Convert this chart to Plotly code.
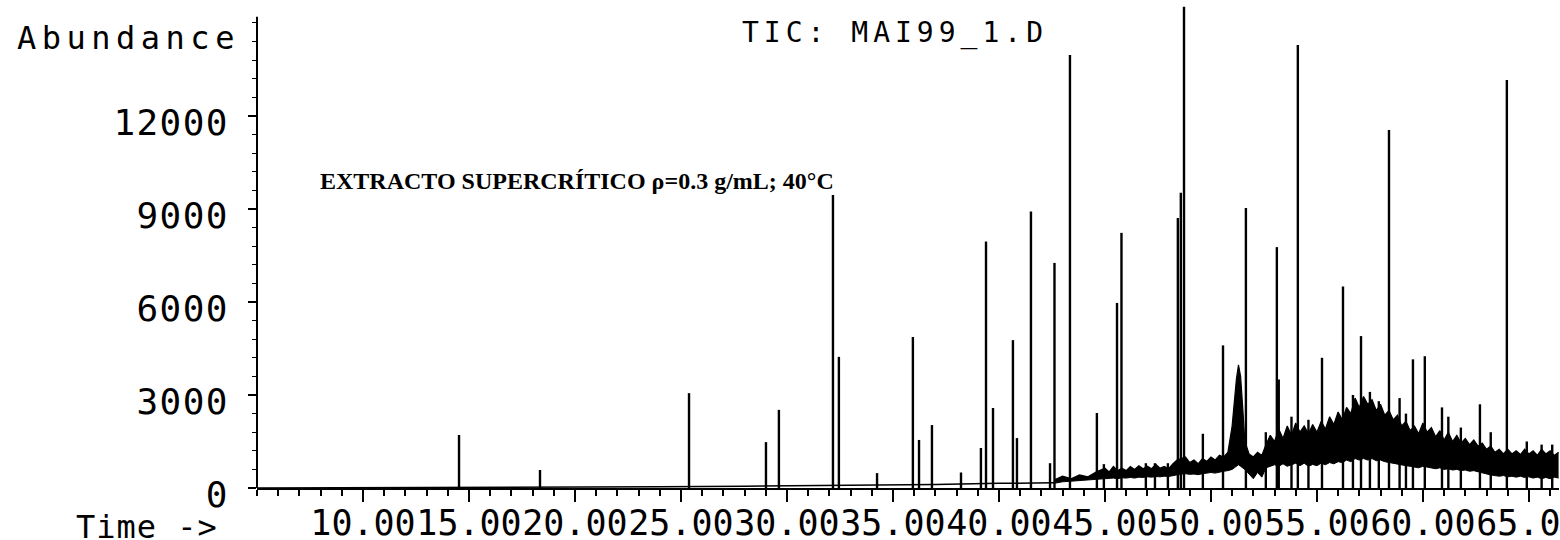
import plotly.graph_objects as go

# ---------------- data ----------------
# discrete peaks: retention time (min) and apex abundance
peak_time = [14.53, 18.35, 25.38, 29.01, 29.62, 32.17, 32.45, 34.25, 35.94, 36.23,
             36.84, 38.21, 39.15, 39.39, 39.72, 40.66, 40.85, 41.51, 42.41, 42.62,
             43.35, 44.62, 44.95, 45.57, 45.78, 46.93, 47.36, 47.97, 48.44, 48.58,
             48.73, 49.62, 50.57, 51.65, 52.59, 53.11, 53.20, 53.80, 54.10, 54.60,
             55.24, 56.23, 56.70, 57.08, 57.50, 57.92, 58.40, 58.90, 59.20, 59.53,
             60.09, 60.90, 61.20, 61.79, 62.69, 63.20, 63.96, 64.90, 65.60, 66.10]
peak_abund = [1710, 580, 3060, 1480, 2520, 9450, 4230, 480, 4870, 1550,
              2030, 500, 1290, 7950, 2580, 4770, 1610, 8920, 800, 7260,
              13970, 2420, 770, 5970, 8230, 800, 800, 800, 8710, 9520,
              15520, 1750, 4600, 9030, 1800, 7770, 3500, 2300, 14290, 2200,
              4200, 6500, 3000, 4900, 3100, 2800, 11550, 2900, 2400, 4150,
              4250, 2600, 2300, 1950, 2700, 1800, 13160, 1500, 1400, 1400]

# quiet baseline of the early part of the run
base_time = [5.0, 12.0, 18.0, 24.0, 28.0, 31.0, 34.0, 37.0, 40.0, 42.6]
base_abund = [0, 10, 20, 40, 60, 70, 90, 110, 150, 170]

# envelope of the noisy baseline in the late part of the run
band_time = [42.6, 43.0, 43.4, 43.8, 44.2, 44.6, 45.0, 45.2, 45.4, 45.6, 45.8, 46.0,
             46.2, 46.4, 46.6, 46.8, 47.0, 47.2, 47.4, 47.6, 47.8, 48.0, 48.2, 48.4,
             48.6, 48.8, 49.0, 49.2, 49.4, 49.6, 49.8, 50.0, 50.2, 50.4, 50.6, 50.8,
             51.0, 51.1, 51.2, 51.3, 51.4, 51.5, 51.6, 51.8, 52.0, 52.2, 52.4, 52.6,
             52.8, 53.0, 53.2, 53.4, 53.6, 53.8, 54.0, 54.2, 54.4, 54.6, 54.8, 55.0,
             55.2, 55.4, 55.6, 55.8, 56.0, 56.2, 56.4, 56.6, 56.8, 57.0, 57.2, 57.4,
             57.6, 57.8, 58.0, 58.2, 58.4, 58.6, 58.8, 59.0, 59.2, 59.4, 59.6, 59.8,
             60.0, 60.2, 60.4, 60.6, 60.8, 61.0, 61.2, 61.4, 61.6, 61.8, 62.0, 62.2,
             62.4, 62.6, 62.8, 63.0, 63.2, 63.4, 63.6, 63.8, 64.0, 64.2, 64.4, 64.6,
             64.8, 65.0, 65.2, 65.4, 65.6, 65.8, 66.0, 66.2, 66.4]
band_low = [150, 200, 220, 240, 250, 260, 280, 300, 320, 300, 330, 320,
            340, 320, 350, 340, 360, 350, 370, 360, 380, 370, 400, 420,
            450, 460, 440, 450, 430, 460, 470, 500, 480, 520, 540, 560,
            600, 650, 700, 750, 700, 650, 600, 450, 300, 500, 350, 650,
            700, 750, 700, 780, 700, 760, 800, 720, 800, 700, 760, 720,
            800, 750, 820, 780, 850, 820, 900, 850, 950, 900, 950, 900,
            950, 880, 900, 850, 820, 800, 780, 750, 720, 700, 680, 650,
            700, 680, 650, 620, 650, 600, 620, 580, 600, 560, 580, 540,
            560, 520, 500, 450, 420, 400, 380, 400, 360, 380, 350, 380,
            340, 360, 320, 350, 300, 340, 300, 350, 320]
band_high = [260, 380, 300, 420, 360, 520, 640, 520, 700, 560, 640, 560,
             690, 600, 720, 620, 700, 620, 760, 640, 700, 620, 780, 900,
             950, 1000, 820, 900, 780, 950, 860, 1000, 900, 1060, 1000, 1150,
             2000, 2900, 3500, 3970, 3600, 2600, 1500, 1100, 1000, 1150, 1050, 1400,
             1700, 1500, 1900, 1600, 2000, 1700, 2100, 1800, 2000, 1750, 2050, 1800,
             2150, 1900, 2300, 2050, 2450, 2200, 2600, 2400, 2900, 2600, 2950, 2700,
             2850, 2500, 2700, 2350, 2500, 2200, 2350, 2000, 2150, 1850, 2000, 1750,
             2100, 1800, 1950, 1650, 1850, 1550, 1800, 1500, 1700, 1450, 1600, 1400,
             1550, 1350, 1450, 1250, 1350, 1150, 1250, 1100, 1250, 1100, 1200, 1080,
             1250, 1100, 1200, 1050, 1250, 1100, 1200, 1050, 1150]

x_tick_vals = [10, 15, 20, 25, 30, 35, 40, 45, 50, 55, 60, 65]
x_tick_text = ["10.00", "15.00", "20.00", "25.00", "30.00", "35.00",
               "40.00", "45.00", "50.00", "55.00", "60.00", "65.00"]
y_tick_vals = [0, 3000, 6000, 9000, 12000]
y_tick_text = ["0", "3000", "6000", "9000", "12000"]

X_RANGE = [5.0, 66.42]
Y_RANGE = [0, 15580]

MONO = "DejaVu Sans Mono"

# ---------------- figure ----------------
fig = go.Figure()

fig.add_trace(go.Scatter(x=base_time, y=base_abund, mode="lines",
                         line=dict(color="black", width=1.5), hoverinfo="skip"))

fig.add_trace(go.Scatter(x=band_time, y=band_low, mode="lines",
                         line=dict(color="black", width=1), hoverinfo="skip"))
fig.add_trace(go.Scatter(x=band_time, y=band_high, mode="lines", fill="tonexty",
                         fillcolor="black", line=dict(color="black", width=1.2),
                         hoverinfo="skip"))

px, py = [], []
for t, h in zip(peak_time, peak_abund):
    px += [t, t, None]
    py += [0, h, None]
fig.add_trace(go.Scatter(x=px, y=py, mode="lines",
                         line=dict(color="black", width=2.4), hoverinfo="skip"))

# y axis line (stops a little below the top of the plot area)
fig.add_shape(type="line", xref="paper", yref="paper", x0=0, x1=0,
              y0=0, y1=15200 / Y_RANGE[1], line=dict(color="black", width=2))

fig.add_annotation(text='<span style="letter-spacing:5.5px">Abundance</span>',
                   xref="paper", yref="paper", x=-0.186, y=0.932,
                   xanchor="left", yanchor="middle", showarrow=False,
                   font=dict(family=MONO, size=32, color="black"))
fig.add_annotation(text='<span style="letter-spacing:1px">Time -></span>',
                   xref="paper", yref="paper", x=-0.1405, y=-0.08,
                   xanchor="left", yanchor="middle", showarrow=False,
                   font=dict(family=MONO, size=32, color="black"))
fig.add_annotation(text='<span style="letter-spacing:5px">TIC: MAI99_1.D</span>',
                   xref="paper", yref="paper", x=0.49, y=0.942,
                   xanchor="center", yanchor="middle", showarrow=False,
                   font=dict(family=MONO, size=28, color="black"))
fig.add_annotation(text="<b>EXTRACTO SUPERCRÍTICO ρ=0.3 g/mL; 40°C</b>",
                   xref="paper", yref="paper", x=0.0469, y=0.636,
                   xanchor="left", yanchor="middle", showarrow=False,
                   font=dict(family="Liberation Serif", size=24, color="black"))

fig.update_layout(
    width=1560, height=540,
    margin=dict(l=257, r=1, t=5, b=52, autoexpand=False),
    paper_bgcolor="white", plot_bgcolor="white",
    showlegend=False,
    xaxis=dict(range=X_RANGE, showgrid=False, zeroline=False, automargin=False,
               showline=True, linecolor="black", linewidth=2,
               tickmode="array", tickvals=x_tick_vals,
               ticktext=x_tick_text, tickangle=0, ticklabeloverflow="allow",
               ticklabelstandoff=-9,
               ticks="outside", ticklen=12, tickwidth=1.5, tickcolor="black",
               tickfont=dict(family=MONO, size=35, color="black"),
               minor=dict(dtick=1, tick0=0, ticks="outside", ticklen=6,
                          tickwidth=1.5, tickcolor="black")),
    yaxis=dict(range=Y_RANGE, showgrid=False, zeroline=False, showline=False,
               automargin=False,
               tickmode="array", tickvals=y_tick_vals,
               ticktext=['<span style="letter-spacing:1.4px">%s</span>' % s for s in y_tick_text],
               ticks="outside", ticklen=8, tickwidth=1.5, tickcolor="black",
               ticklabelshift=6, ticklabelstandoff=12,
               tickfont=dict(family=MONO, size=36, color="black"),
               minor=dict(dtick=600, tick0=0, ticks="outside", ticklen=4,
                          tickwidth=1.2, tickcolor="black")),
)

fig.write_html("out.html")
